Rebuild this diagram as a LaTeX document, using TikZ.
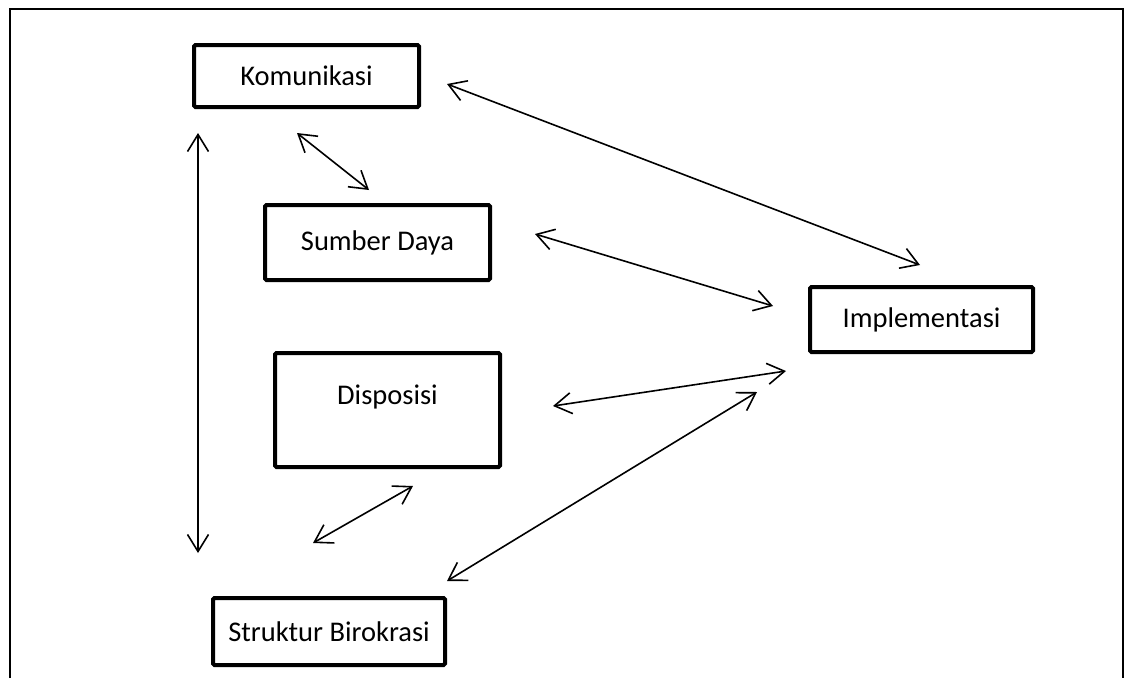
\documentclass[tikz,border=0pt]{standalone}
\usepackage{fontspec}
\setmainfont{Carlito}
\usetikzlibrary{arrows.meta}
\begin{document}
\begin{tikzpicture}[x=1pt,y=-1pt,
  box/.style={draw=black,line width=4pt,rounded corners=1.5pt,inner sep=0pt,
    font=\fontsize{28.5}{34}\selectfont},
  link/.style={line width=1.6pt,{Straight Barb[length=17pt,width=21pt]}-{Straight Barb[length=17pt,width=21pt]}},
  frame/.style={line width=1.6pt}]
\useasboundingbox (0,0) rectangle (1125,678);
\fill[white] (0,0) rectangle (1125,678);
\draw[frame] (10,678) -- (10,9) -- (1123,9) -- (1123,678);

\node[box,minimum width=225pt,minimum height=62pt] (kom) at (306.5,76) {Komunikasi};
\node[box,minimum width=225pt,minimum height=75pt] (sd) at (377.5,242.5) {Sumber Daya};
\node[box,minimum width=225pt,minimum height=114pt] (disp) at (387.5,410) {};
\node[font=\fontsize{28.5}{34}\selectfont,inner sep=0pt] (disptext) at (387.5,397) {Disposisi};
\node[box,minimum width=223pt,minimum height=65pt] (imp) at (921.5,319.5) {Implementasi};
\node[box,minimum width=232pt,minimum height=67pt] (sb) at (329,631.5) {Struktur Birokrasi};

\coordinate (kimp1) at (447,84);
\coordinate (kimp2) at (920,265);
\coordinate (ksd1) at (297,133);
\coordinate (ksd2) at (369,190);
\coordinate (ksb1) at (198,133);
\coordinate (ksb2) at (198,553);
\coordinate (sdimp1) at (535,234);
\coordinate (sdimp2) at (773,306);
\coordinate (dimp1) at (553,406);
\coordinate (dimp2) at (786,371);
\coordinate (sbimp1) at (447,581);
\coordinate (sbimp2) at (757,392);
\coordinate (dsb1) at (413,486);
\coordinate (dsb2) at (313,543);

\draw[link] (kimp1) -- (kimp2);
\draw[link] (ksd1) -- (ksd2);
\draw[link] (ksb1) -- (ksb2);
\draw[link] (sdimp1) -- (sdimp2);
\draw[link] (dimp1) -- (dimp2);
\draw[link] (sbimp1) -- (sbimp2);
\draw[link] (dsb1) -- (dsb2);
\end{tikzpicture}
\end{document}
